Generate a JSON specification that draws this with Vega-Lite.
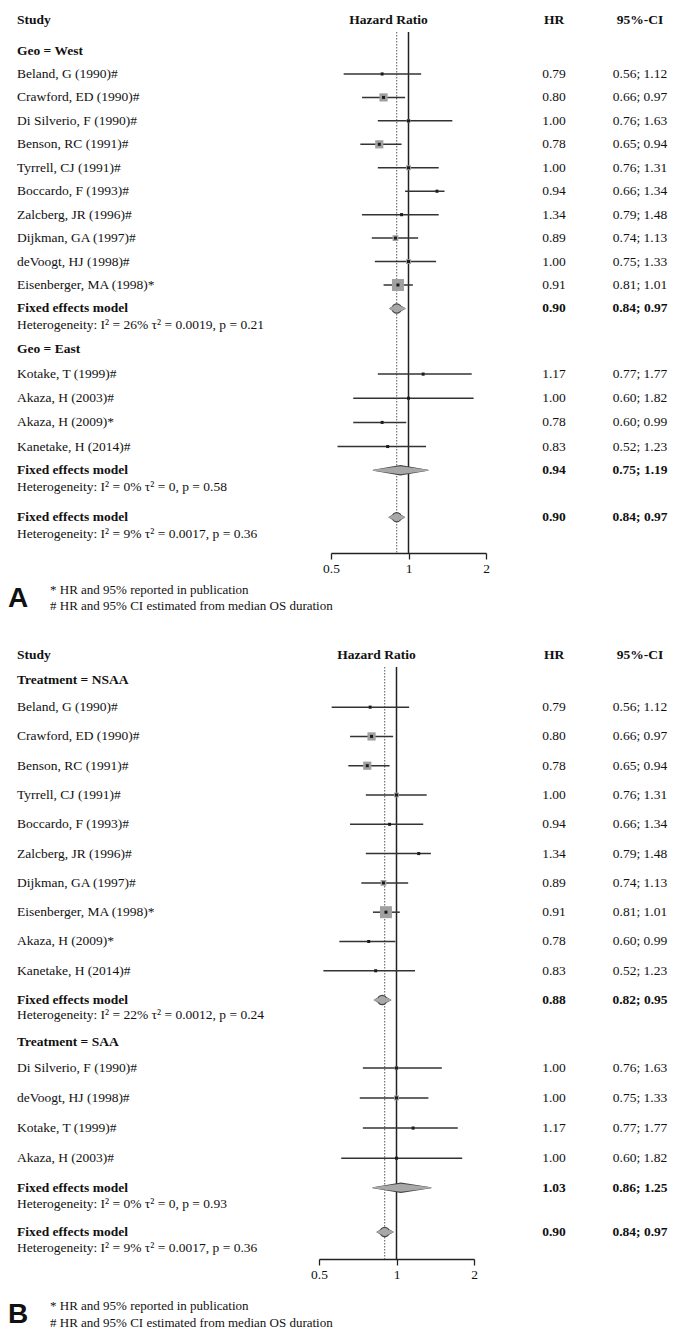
{
  "$schema": "https://vega.github.io/schema/vega-lite/v6.json",
  "padding": {"left": 8, "top": 13, "right": 5, "bottom": 5},
  "spacing": 34,
  "config": {"view": {"stroke": null}, "font": "Liberation Serif", "text": {"font": "Liberation Serif", "color": "#111"}},
  "datasets": {
    "a": [
      {"line": -0.3, "kind": "header", "label": "Study", "plot": "Hazard Ratio", "hr": "HR", "ci": "95%-CI"},
      {"line": 1, "kind": "group", "label": "Geo = West"},
      {"line": 2, "kind": "study", "label": "Beland, G (1990)#", "hr": "0.79", "ci": "0.56; 1.12", "est": 0.79, "lo": 0.56, "hi": 1.12, "w": 1.5},
      {"line": 3, "kind": "study", "label": "Crawford, ED (1990)#", "hr": "0.80", "ci": "0.66; 0.97", "est": 0.80, "lo": 0.66, "hi": 0.97, "w": 14},
      {"line": 4, "kind": "study", "label": "Di Silverio, F (1990)#", "hr": "1.00", "ci": "0.76; 1.63", "est": 1.00, "lo": 0.76, "hi": 1.48, "w": 3},
      {"line": 5, "kind": "study", "label": "Benson, RC (1991)#", "hr": "0.78", "ci": "0.65; 0.94", "est": 0.77, "lo": 0.65, "hi": 0.94, "w": 14},
      {"line": 6, "kind": "study", "label": "Tyrrell, CJ (1991)#", "hr": "1.00", "ci": "0.76; 1.31", "est": 1.00, "lo": 0.76, "hi": 1.31, "w": 5},
      {"line": 7, "kind": "study", "label": "Boccardo, F (1993)#", "hr": "0.94", "ci": "0.66; 1.34", "est": 1.29, "lo": 0.97, "hi": 1.38, "w": 1.5},
      {"line": 8, "kind": "study", "label": "Zalcberg, JR (1996)#", "hr": "1.34", "ci": "0.79; 1.48", "est": 0.94, "lo": 0.66, "hi": 1.31, "w": 2},
      {"line": 9, "kind": "study", "label": "Dijkman, GA (1997)#", "hr": "0.89", "ci": "0.74; 1.13", "est": 0.89, "lo": 0.72, "hi": 1.09, "w": 7},
      {"line": 10, "kind": "study", "label": "deVoogt, HJ (1998)#", "hr": "1.00", "ci": "0.75; 1.33", "est": 1.00, "lo": 0.74, "hi": 1.28, "w": 5},
      {"line": 11, "kind": "study", "label": "Eisenberger, MA (1998)*", "hr": "0.91", "ci": "0.81; 1.01", "est": 0.91, "lo": 0.80, "hi": 1.04, "w": 30},
      {"line": 12, "kind": "fixed", "label": "Fixed effects model", "hr": "0.90", "ci": "0.84; 0.97"},
      {"line": 12.7, "kind": "het", "label": "Heterogeneity: I² = 26% τ² = 0.0019, p = 0.21"},
      {"line": 13.75, "kind": "group", "label": "Geo = East"},
      {"line": 14.8, "kind": "study", "label": "Kotake, T (1999)#", "hr": "1.17", "ci": "0.77; 1.77", "est": 1.14, "lo": 0.76, "hi": 1.76, "w": 1.5},
      {"line": 15.83, "kind": "study", "label": "Akaza, H (2003)#", "hr": "1.00", "ci": "0.60; 1.82", "est": 1.00, "lo": 0.61, "hi": 1.79, "w": 1.5},
      {"line": 16.86, "kind": "study", "label": "Akaza, H (2009)*", "hr": "0.78", "ci": "0.60; 0.99", "est": 0.79, "lo": 0.61, "hi": 0.98, "w": 1.5},
      {"line": 17.89, "kind": "study", "label": "Kanetake, H (2014)#", "hr": "0.83", "ci": "0.52; 1.23", "est": 0.83, "lo": 0.53, "hi": 1.17, "w": 1.5},
      {"line": 18.9, "kind": "fixed", "label": "Fixed effects model", "hr": "0.94", "ci": "0.75; 1.19"},
      {"line": 19.62, "kind": "het", "label": "Heterogeneity: I² = 0% τ² = 0, p = 0.58"},
      {"line": 20.9, "kind": "fixed", "label": "Fixed effects model", "hr": "0.90", "ci": "0.84; 0.97"},
      {"line": 21.6, "kind": "het", "label": "Heterogeneity: I² = 9% τ² = 0.0017, p = 0.36"},
      {"line": 24.0, "kind": "note", "label": "* HR and 95% reported in publication"},
      {"line": 24.7, "kind": "note", "label": "# HR and 95% CI estimated from median OS duration"},
      {"line": 24.4, "kind": "panel", "label": "A"}
    ],
    "ad": [
      {"id": "West", "line": 12, "peak": 0, "x": 0.845},
      {"id": "West", "line": 12, "peak": 1, "x": 0.90},
      {"id": "West", "line": 12, "peak": 0, "x": 0.97},
      {"id": "East", "line": 18.9, "peak": 0, "x": 0.73},
      {"id": "East", "line": 18.9, "peak": 1, "x": 0.93},
      {"id": "East", "line": 18.9, "peak": 0, "x": 1.19},
      {"id": "All", "line": 20.9, "peak": 0, "x": 0.84},
      {"id": "All", "line": 20.9, "peak": 1, "x": 0.90},
      {"id": "All", "line": 20.9, "peak": 0, "x": 0.965}
    ],
    "b": [
      {"line": 0.23, "kind": "header", "label": "Study", "plot": "Hazard Ratio", "hr": "HR", "ci": "95%-CI"},
      {"line": 1.08, "kind": "group", "label": "Treatment = NSAA"},
      {"line": 2, "kind": "study", "label": "Beland, G (1990)#", "hr": "0.79", "ci": "0.56; 1.12", "est": 0.79, "lo": 0.56, "hi": 1.12, "w": 1.5},
      {"line": 3, "kind": "study", "label": "Crawford, ED (1990)#", "hr": "0.80", "ci": "0.66; 0.97", "est": 0.80, "lo": 0.66, "hi": 0.97, "w": 14},
      {"line": 4, "kind": "study", "label": "Benson, RC (1991)#", "hr": "0.78", "ci": "0.65; 0.94", "est": 0.77, "lo": 0.65, "hi": 0.94, "w": 14},
      {"line": 5, "kind": "study", "label": "Tyrrell, CJ (1991)#", "hr": "1.00", "ci": "0.76; 1.31", "est": 1.00, "lo": 0.76, "hi": 1.31, "w": 5},
      {"line": 6, "kind": "study", "label": "Boccardo, F (1993)#", "hr": "0.94", "ci": "0.66; 1.34", "est": 0.94, "lo": 0.66, "hi": 1.27, "w": 1.5},
      {"line": 7, "kind": "study", "label": "Zalcberg, JR (1996)#", "hr": "1.34", "ci": "0.79; 1.48", "est": 1.22, "lo": 0.76, "hi": 1.36, "w": 1.5},
      {"line": 8, "kind": "study", "label": "Dijkman, GA (1997)#", "hr": "0.89", "ci": "0.74; 1.13", "est": 0.89, "lo": 0.73, "hi": 1.11, "w": 7},
      {"line": 9, "kind": "study", "label": "Eisenberger, MA (1998)*", "hr": "0.91", "ci": "0.81; 1.01", "est": 0.91, "lo": 0.81, "hi": 1.03, "w": 30},
      {"line": 10, "kind": "study", "label": "Akaza, H (2009)*", "hr": "0.78", "ci": "0.60; 0.99", "est": 0.78, "lo": 0.60, "hi": 0.99, "w": 1.5},
      {"line": 11, "kind": "study", "label": "Kanetake, H (2014)#", "hr": "0.83", "ci": "0.52; 1.23", "est": 0.83, "lo": 0.52, "hi": 1.18, "w": 1.5},
      {"line": 12, "kind": "fixed", "label": "Fixed effects model", "hr": "0.88", "ci": "0.82; 0.95"},
      {"line": 12.52, "kind": "het", "label": "Heterogeneity: I² = 22% τ² = 0.0012, p = 0.24"},
      {"line": 13.43, "kind": "group", "label": "Treatment = SAA"},
      {"line": 14.32, "kind": "study", "label": "Di Silverio, F (1990)#", "hr": "1.00", "ci": "0.76; 1.63", "est": 1.00, "lo": 0.74, "hi": 1.50, "w": 3},
      {"line": 15.34, "kind": "study", "label": "deVoogt, HJ (1998)#", "hr": "1.00", "ci": "0.75; 1.33", "est": 1.00, "lo": 0.72, "hi": 1.33, "w": 5},
      {"line": 16.37, "kind": "study", "label": "Kotake, T (1999)#", "hr": "1.17", "ci": "0.77; 1.77", "est": 1.16, "lo": 0.74, "hi": 1.73, "w": 1.5},
      {"line": 17.4, "kind": "study", "label": "Akaza, H (2003)#", "hr": "1.00", "ci": "0.60; 1.82", "est": 1.00, "lo": 0.61, "hi": 1.80, "w": 1.5},
      {"line": 18.41, "kind": "fixed", "label": "Fixed effects model", "hr": "1.03", "ci": "0.86; 1.25"},
      {"line": 18.96, "kind": "het", "label": "Heterogeneity: I² = 0% τ² = 0, p = 0.93"},
      {"line": 19.92, "kind": "fixed", "label": "Fixed effects model", "hr": "0.90", "ci": "0.84; 0.97"},
      {"line": 20.46, "kind": "het", "label": "Heterogeneity: I² = 9% τ² = 0.0017, p = 0.36"},
      {"line": 22.45, "kind": "note", "label": "* HR and 95% reported in publication"},
      {"line": 23.03, "kind": "note", "label": "# HR and 95% CI estimated from median OS duration"},
      {"line": 22.74, "kind": "panel", "label": "B"}
    ],
    "bd": [
      {"id": "NSAA", "line": 12, "peak": 0, "x": 0.82},
      {"id": "NSAA", "line": 12, "peak": 1, "x": 0.88},
      {"id": "NSAA", "line": 12, "peak": 0, "x": 0.95},
      {"id": "SAA", "line": 18.41, "peak": 0, "x": 0.81},
      {"id": "SAA", "line": 18.41, "peak": 1, "x": 1.04},
      {"id": "SAA", "line": 18.41, "peak": 0, "x": 1.36},
      {"id": "All", "line": 19.92, "peak": 0, "x": 0.84},
      {"id": "All", "line": 19.92, "peak": 1, "x": 0.90},
      {"id": "All", "line": 19.92, "peak": 0, "x": 0.97}
    ],
    "ref": [
      {"x": 1, "type": "no effect"},
      {"x": 0.9, "type": "pooled"}
    ]
  },
  "vconcat": [
    {
      "hconcat": [
        {
          "width": 314, "height": 521,
          "data": {"name": "a"},
          "encoding": {
            "x": {"datum": 0, "type": "quantitative", "scale": {"domain": [0, 1]}, "axis": null},
            "y": {"field": "line", "type": "quantitative", "scale": {"domain": [0.21, 22.43], "reverse": true, "nice": false, "zero": false}, "axis": null}
          },
          "layer": [
            {"transform": [{"filter": "datum.kind == 'study' || datum.kind == 'het'"}], "mark": {"type": "text", "align": "left", "baseline": "middle", "fontSize": 13.5}, "encoding": {"text": {"field": "label"}}},
            {"transform": [{"filter": "datum.kind == 'header' || datum.kind == 'group' || datum.kind == 'fixed'"}], "mark": {"type": "text", "align": "left", "baseline": "middle", "fontSize": 13.5, "fontWeight": "bold"}, "encoding": {"text": {"field": "label"}}},
            {"transform": [{"filter": "datum.kind == 'note'"}], "mark": {"type": "text", "align": "left", "baseline": "middle", "fontSize": 13, "dx": 33}, "encoding": {"text": {"field": "label"}}},
            {"transform": [{"filter": "datum.kind == 'panel'"}], "mark": {"type": "text", "align": "left", "baseline": "middle", "fontSize": 28, "fontWeight": "bold", "font": "Liberation Sans", "dx": -9}, "encoding": {"text": {"field": "label"}}}
          ]
        },
        {
          "width": 155, "height": 521,
          "resolve": {"scale": {"size": "independent"}},
          "layer": [
            {"data": {"name": "a"}, "transform": [{"filter": "datum.kind == 'header'"}], "mark": {"type": "text", "baseline": "middle", "fontSize": 13.5, "fontWeight": "bold", "dx": -20},
             "encoding": {"y": {"field": "line", "type": "quantitative", "scale": {"domain": [0.21, 22.43], "reverse": true, "nice": false, "zero": false}, "axis": null}, "text": {"field": "plot"}}},
            {"data": {"name": "ref"}, "transform": [{"filter": "datum.type == 'pooled'"}], "mark": {"type": "rule", "color": "#555", "strokeDash": [1.5, 1.5], "strokeWidth": 1},
             "encoding": {"x": {"field": "x", "type": "quantitative", "scale": {"type": "log", "domain": [0.5, 2], "nice": false}, "axis": {"values": [0.5, 1, 2], "format": "~g", "title": null, "grid": false, "domainColor": "#222", "domainWidth": 1.3, "tickColor": "#222", "tickWidth": 1.3, "tickSize": 6, "labelFont": "Liberation Serif", "labelFontSize": 13.5, "labelColor": "#111", "labelPadding": 2, "labelFlush": false, "labelOverlap": false}}}},
            {"data": {"name": "ref"}, "transform": [{"filter": "datum.type == 'no effect'"}], "mark": {"type": "rule", "color": "#222", "strokeWidth": 1.5},
             "encoding": {"x": {"field": "x", "type": "quantitative"}}},
            {"data": {"name": "a"}, "transform": [{"filter": "datum.kind == 'study'"}], "mark": {"type": "rule", "color": "#333", "strokeWidth": 1.5},
             "encoding": {"x": {"field": "lo", "type": "quantitative"}, "x2": {"field": "hi"}, "y": {"field": "line", "type": "quantitative"}}},
            {"data": {"name": "a"}, "transform": [{"filter": "datum.kind == 'study'"}], "mark": {"type": "point", "shape": "square", "filled": true, "color": "#a0a0a0", "opacity": 1},
             "encoding": {"x": {"field": "est", "type": "quantitative"}, "y": {"field": "line", "type": "quantitative"}, "size": {"field": "w", "type": "quantitative", "scale": {"domain": [0, 30], "range": [0, 144]}, "legend": null}}},
            {"data": {"name": "a"}, "transform": [{"filter": "datum.kind == 'study'"}], "mark": {"type": "point", "shape": "square", "filled": true, "color": "#1a1a1a", "opacity": 1, "size": 9},
             "encoding": {"x": {"field": "est", "type": "quantitative"}, "y": {"field": "line", "type": "quantitative"}}},
            {"data": {"name": "ad"}, "mark": {"type": "trail", "color": "#444", "opacity": 1},
             "encoding": {"x": {"field": "x", "type": "quantitative"}, "y": {"field": "line", "type": "quantitative"}, "size": {"field": "peak", "type": "quantitative", "scale": {"domain": [0, 1], "range": [0, 10.5]}, "legend": null}, "order": {"field": "x", "type": "quantitative"}, "detail": {"field": "id"}}},
            {"data": {"name": "ad"}, "mark": {"type": "trail", "color": "#a8a8a8", "opacity": 1},
             "encoding": {"x": {"field": "x", "type": "quantitative"}, "y": {"field": "line", "type": "quantitative"}, "size": {"field": "peak", "type": "quantitative", "scale": {"domain": [0, 1], "range": [0, 8]}, "legend": null}, "order": {"field": "x", "type": "quantitative"}, "detail": {"field": "id"}}}
          ]
        },
        {
          "width": 136, "height": 521,
          "data": {"name": "a"},
          "encoding": {
            "x": {"datum": 0.5, "type": "quantitative", "scale": {"domain": [0, 1]}, "axis": null},
            "y": {"field": "line", "type": "quantitative", "scale": {"domain": [0.21, 22.43], "reverse": true, "nice": false, "zero": false}, "axis": null}
          },
          "layer": [
            {"transform": [{"filter": "datum.kind == 'study'"}], "mark": {"type": "text", "baseline": "middle", "fontSize": 13.5}, "encoding": {"text": {"field": "hr"}}},
            {"transform": [{"filter": "datum.kind == 'header' || datum.kind == 'fixed'"}], "mark": {"type": "text", "baseline": "middle", "fontSize": 13.5, "fontWeight": "bold"}, "encoding": {"text": {"field": "hr"}}}
          ]
        },
        {
          "width": 36, "height": 521,
          "data": {"name": "a"},
          "encoding": {
            "x": {"datum": 0.5, "type": "quantitative", "scale": {"domain": [0, 1]}, "axis": null},
            "y": {"field": "line", "type": "quantitative", "scale": {"domain": [0.21, 22.43], "reverse": true, "nice": false, "zero": false}, "axis": null}
          },
          "layer": [
            {"transform": [{"filter": "datum.kind == 'study'"}], "mark": {"type": "text", "baseline": "middle", "fontSize": 13.5}, "encoding": {"text": {"field": "ci"}}},
            {"transform": [{"filter": "datum.kind == 'header' || datum.kind == 'fixed'"}], "mark": {"type": "text", "baseline": "middle", "fontSize": 13.5, "fontWeight": "bold"}, "encoding": {"text": {"field": "ci"}}}
          ]
        }
      ],
      "spacing": 0,
      "bounds": "flush"
    },
    {
      "hconcat": [
        {
          "width": 302, "height": 592,
          "data": {"name": "b"},
          "encoding": {
            "x": {"datum": 0, "type": "quantitative", "scale": {"domain": [0, 1]}, "axis": null},
            "y": {"field": "line", "type": "quantitative", "scale": {"domain": [0.63, 20.84], "reverse": true, "nice": false, "zero": false}, "axis": null}
          },
          "layer": [
            {"transform": [{"filter": "datum.kind == 'study' || datum.kind == 'het'"}], "mark": {"type": "text", "align": "left", "baseline": "middle", "fontSize": 13.5}, "encoding": {"text": {"field": "label"}}},
            {"transform": [{"filter": "datum.kind == 'header' || datum.kind == 'group' || datum.kind == 'fixed'"}], "mark": {"type": "text", "align": "left", "baseline": "middle", "fontSize": 13.5, "fontWeight": "bold"}, "encoding": {"text": {"field": "label"}}},
            {"transform": [{"filter": "datum.kind == 'note'"}], "mark": {"type": "text", "align": "left", "baseline": "middle", "fontSize": 13, "dx": 33}, "encoding": {"text": {"field": "label"}}},
            {"transform": [{"filter": "datum.kind == 'panel'"}], "mark": {"type": "text", "align": "left", "baseline": "middle", "fontSize": 28, "fontWeight": "bold", "font": "Liberation Sans", "dx": -9}, "encoding": {"text": {"field": "label"}}}
          ]
        },
        {
          "width": 155, "height": 592,
          "resolve": {"scale": {"size": "independent"}},
          "layer": [
            {"data": {"name": "b"}, "transform": [{"filter": "datum.kind == 'header'"}], "mark": {"type": "text", "baseline": "middle", "fontSize": 13.5, "fontWeight": "bold", "dx": -20},
             "encoding": {"y": {"field": "line", "type": "quantitative", "scale": {"domain": [0.63, 20.84], "reverse": true, "nice": false, "zero": false}, "axis": null}, "text": {"field": "plot"}}},
            {"data": {"name": "ref"}, "transform": [{"filter": "datum.type == 'pooled'"}], "mark": {"type": "rule", "color": "#555", "strokeDash": [1.5, 1.5], "strokeWidth": 1},
             "encoding": {"x": {"field": "x", "type": "quantitative", "scale": {"type": "log", "domain": [0.5, 2], "nice": false}, "axis": {"values": [0.5, 1, 2], "format": "~g", "title": null, "grid": false, "domainColor": "#222", "domainWidth": 1.3, "tickColor": "#222", "tickWidth": 1.3, "tickSize": 6, "labelFont": "Liberation Serif", "labelFontSize": 13.5, "labelColor": "#111", "labelPadding": 2, "labelFlush": false, "labelOverlap": false}}}},
            {"data": {"name": "ref"}, "transform": [{"filter": "datum.type == 'no effect'"}], "mark": {"type": "rule", "color": "#222", "strokeWidth": 1.5},
             "encoding": {"x": {"field": "x", "type": "quantitative"}}},
            {"data": {"name": "b"}, "transform": [{"filter": "datum.kind == 'study'"}], "mark": {"type": "rule", "color": "#333", "strokeWidth": 1.5},
             "encoding": {"x": {"field": "lo", "type": "quantitative"}, "x2": {"field": "hi"}, "y": {"field": "line", "type": "quantitative"}}},
            {"data": {"name": "b"}, "transform": [{"filter": "datum.kind == 'study'"}], "mark": {"type": "point", "shape": "square", "filled": true, "color": "#a0a0a0", "opacity": 1},
             "encoding": {"x": {"field": "est", "type": "quantitative"}, "y": {"field": "line", "type": "quantitative"}, "size": {"field": "w", "type": "quantitative", "scale": {"domain": [0, 30], "range": [0, 144]}, "legend": null}}},
            {"data": {"name": "b"}, "transform": [{"filter": "datum.kind == 'study'"}], "mark": {"type": "point", "shape": "square", "filled": true, "color": "#1a1a1a", "opacity": 1, "size": 9},
             "encoding": {"x": {"field": "est", "type": "quantitative"}, "y": {"field": "line", "type": "quantitative"}}},
            {"data": {"name": "bd"}, "mark": {"type": "trail", "color": "#444", "opacity": 1},
             "encoding": {"x": {"field": "x", "type": "quantitative"}, "y": {"field": "line", "type": "quantitative"}, "size": {"field": "peak", "type": "quantitative", "scale": {"domain": [0, 1], "range": [0, 10.5]}, "legend": null}, "order": {"field": "x", "type": "quantitative"}, "detail": {"field": "id"}}},
            {"data": {"name": "bd"}, "mark": {"type": "trail", "color": "#a8a8a8", "opacity": 1},
             "encoding": {"x": {"field": "x", "type": "quantitative"}, "y": {"field": "line", "type": "quantitative"}, "size": {"field": "peak", "type": "quantitative", "scale": {"domain": [0, 1], "range": [0, 8]}, "legend": null}, "order": {"field": "x", "type": "quantitative"}, "detail": {"field": "id"}}}
          ]
        },
        {
          "width": 160, "height": 592,
          "data": {"name": "b"},
          "encoding": {
            "x": {"datum": 0.5, "type": "quantitative", "scale": {"domain": [0, 1]}, "axis": null},
            "y": {"field": "line", "type": "quantitative", "scale": {"domain": [0.63, 20.84], "reverse": true, "nice": false, "zero": false}, "axis": null}
          },
          "layer": [
            {"transform": [{"filter": "datum.kind == 'study'"}], "mark": {"type": "text", "baseline": "middle", "fontSize": 13.5}, "encoding": {"text": {"field": "hr"}}},
            {"transform": [{"filter": "datum.kind == 'header' || datum.kind == 'fixed'"}], "mark": {"type": "text", "baseline": "middle", "fontSize": 13.5, "fontWeight": "bold"}, "encoding": {"text": {"field": "hr"}}}
          ]
        },
        {
          "width": 12, "height": 592,
          "data": {"name": "b"},
          "encoding": {
            "x": {"datum": 0.5, "type": "quantitative", "scale": {"domain": [0, 1]}, "axis": null},
            "y": {"field": "line", "type": "quantitative", "scale": {"domain": [0.63, 20.84], "reverse": true, "nice": false, "zero": false}, "axis": null}
          },
          "layer": [
            {"transform": [{"filter": "datum.kind == 'study'"}], "mark": {"type": "text", "baseline": "middle", "fontSize": 13.5}, "encoding": {"text": {"field": "ci"}}},
            {"transform": [{"filter": "datum.kind == 'header' || datum.kind == 'fixed'"}], "mark": {"type": "text", "baseline": "middle", "fontSize": 13.5, "fontWeight": "bold"}, "encoding": {"text": {"field": "ci"}}}
          ]
        }
      ],
      "spacing": 0,
      "bounds": "flush"
    }
  ]
}
